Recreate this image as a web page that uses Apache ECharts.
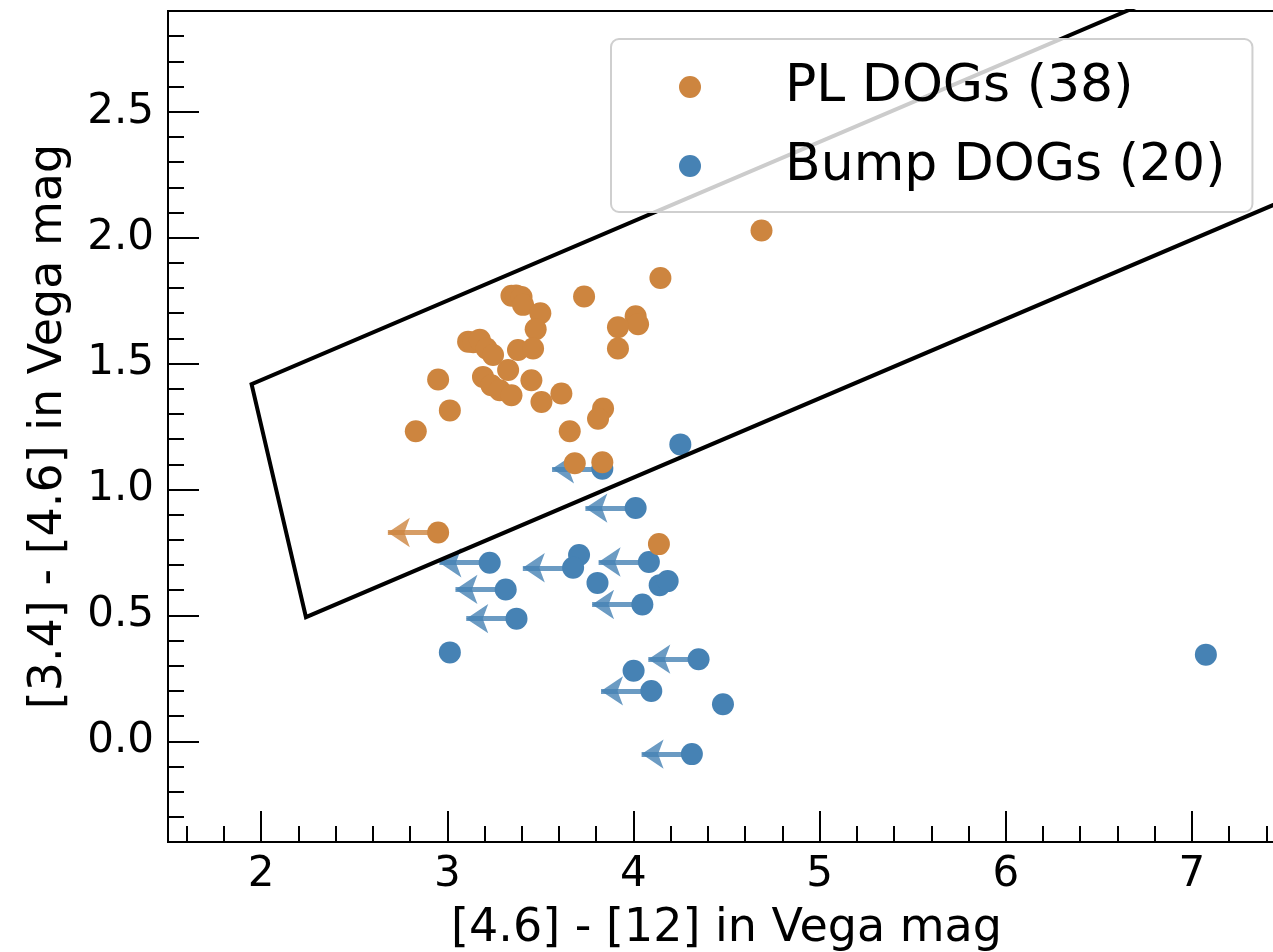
<!DOCTYPE html>
<html>
<head>
<meta charset="utf-8">
<script src="https://cdn.jsdelivr.net/npm/echarts@6/dist/echarts.min.js"></script>
<style>
  html, body { margin: 0; padding: 0; background: #fff; overflow: hidden; }
  /* plot frame runs a little past the right edge of the window, as in the source */
  #wrap { width: 1273px; height: 952px; overflow: hidden; position: relative; }
  #chart { position: absolute; left: 0; top: 0; width: 1285px; height: 952px; }
</style>
</head>
<body>
<div id="wrap"><div id="chart"></div></div>
<script>
// PL DOGs, limit flag (1 = upper limit in x)
var plX = [4.688, 4.145, 3.735, 3.345, 3.370, 3.399, 3.407, 3.500, 3.475, 4.012,
           4.025, 3.917, 3.917, 3.112, 3.140, 3.175, 3.211, 3.246, 3.380, 3.461,
           2.951, 3.327, 3.192, 3.237, 3.282, 3.345, 3.452, 3.506, 3.613, 3.014,
           3.837, 3.810, 2.831, 3.658, 3.685, 3.833, 2.951, 4.137];
var plY = [2.028, 1.840, 1.766, 1.769, 1.770, 1.764, 1.733, 1.700, 1.636, 1.688,
           1.656, 1.644, 1.560, 1.587, 1.585, 1.594, 1.560, 1.534, 1.554, 1.560,
           1.437, 1.474, 1.447, 1.414, 1.394, 1.374, 1.434, 1.347, 1.381, 1.314,
           1.321, 1.281, 1.231, 1.231, 1.104, 1.108, 0.829, 0.783];
var plUL = [0, 0, 0, 0, 0, 0, 0, 0, 0, 0,
            0, 0, 0, 0, 0, 0, 0, 0, 0, 0,
            0, 0, 0, 0, 0, 0, 0, 0, 0, 0,
            0, 0, 0, 0, 0, 0, 1, 0];

// Bump DOGs
var bumpX = [3.833, 4.252, 4.012, 3.228, 3.708, 3.676, 4.083, 3.314, 3.807, 4.141,
             4.184, 4.048, 3.372, 3.014, 4.350, 4.001, 4.096, 4.481, 4.314, 7.075];
var bumpY = [1.082, 1.179, 0.926, 0.709, 0.740, 0.689, 0.712, 0.603, 0.629, 0.620,
             0.636, 0.543, 0.487, 0.353, 0.326, 0.280, 0.200, 0.147, -0.051, 0.344];
var bumpUL = [1, 0, 1, 1, 0, 1, 1, 1, 0, 0,
              0, 1, 1, 0, 1, 0, 1, 0, 1, 0];

// selection wedge (open polygon)
var wedgeX = [7.6, 1.949, 2.241, 7.6];
var wedgeY = [3.200, 1.418, 0.493, 2.181];

var xMajor = [2, 3, 4, 5, 6, 7];
var xMinor = [1.6, 1.8, 2.2, 2.4, 2.6, 2.8, 3.2, 3.4, 3.6, 3.8, 4.2, 4.4, 4.6, 4.8,
              5.2, 5.4, 5.6, 5.8, 6.2, 6.4, 6.6, 6.8, 7.2, 7.4];
var yMajor = [0, 0.5, 1.0, 1.5, 2.0, 2.5];
var yMinor = [-0.3, -0.2, -0.1, 0.1, 0.2, 0.3, 0.4, 0.6, 0.7, 0.8, 0.9, 1.1, 1.2, 1.3, 1.4,
              1.6, 1.7, 1.8, 1.9, 2.1, 2.2, 2.3, 2.4, 2.6, 2.7, 2.8];

var orange = '#cd853f';
var blue = '#4682b4';
var font = 'DejaVu Sans';
var arrowLen = 0.27;

function pts(xs, ys) {
  return xs.map(function(x, i) { return [x, ys[i]]; });
}
function arrows(xs, ys, flags) {
  var out = [];
  for (var i = 0; i < xs.length; i++) {
    if (flags[i]) out.push({ coords: [[xs[i], ys[i]], [xs[i] - arrowLen, ys[i]]] });
  }
  return out;
}

function xAxisDef(ticks, len, withLabels) {
  return {
    type: 'value', min: 1.5, max: 7.5, position: 'bottom',
    axisLine: { show: withLabels, onZero: false, lineStyle: { color: '#000', width: 2 } },
    axisTick: { show: true, inside: true, length: len, customValues: ticks, lineStyle: { color: '#000', width: 2 } },
    axisLabel: { show: withLabels, customValues: ticks, color: '#000', fontSize: 42, fontFamily: font, margin: 12 },
    splitLine: { show: false },
    name: withLabels ? '[4.6] - [12] in Vega mag' : '',
    nameLocation: 'middle', nameGap: 64,
    nameTextStyle: { color: '#000', fontSize: 46, fontFamily: font }
  };
}
function yAxisDef(ticks, len, withLabels) {
  return {
    type: 'value', min: -0.4, max: 2.9, position: 'left',
    axisLine: { show: withLabels, onZero: false, lineStyle: { color: '#000', width: 2 } },
    axisTick: { show: true, inside: true, length: len, customValues: ticks, lineStyle: { color: '#000', width: 2 } },
    axisLabel: {
      show: withLabels, customValues: ticks, color: '#000', fontSize: 42, fontFamily: font, margin: 14,
      formatter: function(v) { return v.toFixed(1); }
    },
    splitLine: { show: false },
    name: withLabels ? '[3.4] - [4.6] in Vega mag' : '',
    nameLocation: 'middle', nameGap: 96,
    nameTextStyle: { color: '#000', fontSize: 46, fontFamily: font }
  };
}

var chart = echarts.init(document.getElementById('chart'), null, { renderer: 'canvas', width: 1285, height: 952 });
chart.setOption({
  animation: false,
  backgroundColor: '#fff',
  grid: {
    left: 168, top: 11, right: 0, bottom: 110,
    outerBoundsMode: 'none', containLabel: false,
    show: true, borderColor: '#000', borderWidth: 2, backgroundColor: 'transparent'
  },
  legend: {
    orient: 'vertical',
    left: 611, top: 39,
    padding: [22, 27, 20, 68],
    itemWidth: 22, itemHeight: 22, itemGap: 27,
    icon: 'circle',
    backgroundColor: 'rgba(255,255,255,0.8)',
    borderColor: '#cfcfcf', borderWidth: 2, borderRadius: 8,
    z: 10,
    data: ['PL DOGs (38)', 'Bump DOGs (20)'],
    textStyle: { color: '#000', fontSize: 52, lineHeight: 50, fontFamily: font, padding: [0, 0, 0, 79] }
  },
  xAxis: [xAxisDef(xMajor, 31, true), xAxisDef(xMinor, 16, false)],
  yAxis: [yAxisDef(yMajor, 31, true), yAxisDef(yMinor, 16, false)],
  series: [
    {
      type: 'lines', coordinateSystem: 'cartesian2d', name: 'bump-limits', z: 2,
      data: arrows(bumpX, bumpY, bumpUL),
      symbol: ['none', 'arrow'], symbolSize: 22,
      lineStyle: { color: blue, width: 5, opacity: 0.8 }
    },
    {
      type: 'lines', coordinateSystem: 'cartesian2d', name: 'pl-limits', z: 2,
      data: arrows(plX, plY, plUL),
      symbol: ['none', 'arrow'], symbolSize: 22,
      lineStyle: { color: orange, width: 5, opacity: 0.8 }
    },
    {
      type: 'scatter', name: 'Bump DOGs (20)', z: 3,
      data: pts(bumpX, bumpY), symbolSize: 22,
      itemStyle: { color: blue, opacity: 1 }
    },
    {
      type: 'scatter', name: 'PL DOGs (38)', z: 3,
      data: pts(plX, plY), symbolSize: 22,
      itemStyle: { color: orange, opacity: 1 }
    },
    {
      type: 'line', name: 'wedge', z: 4,
      data: pts(wedgeX, wedgeY),
      showSymbol: false, symbol: 'none', clip: true,
      lineStyle: { color: '#000', width: 4, join: 'miter' }
    }
  ]
});
</script>
</body>
</html>
